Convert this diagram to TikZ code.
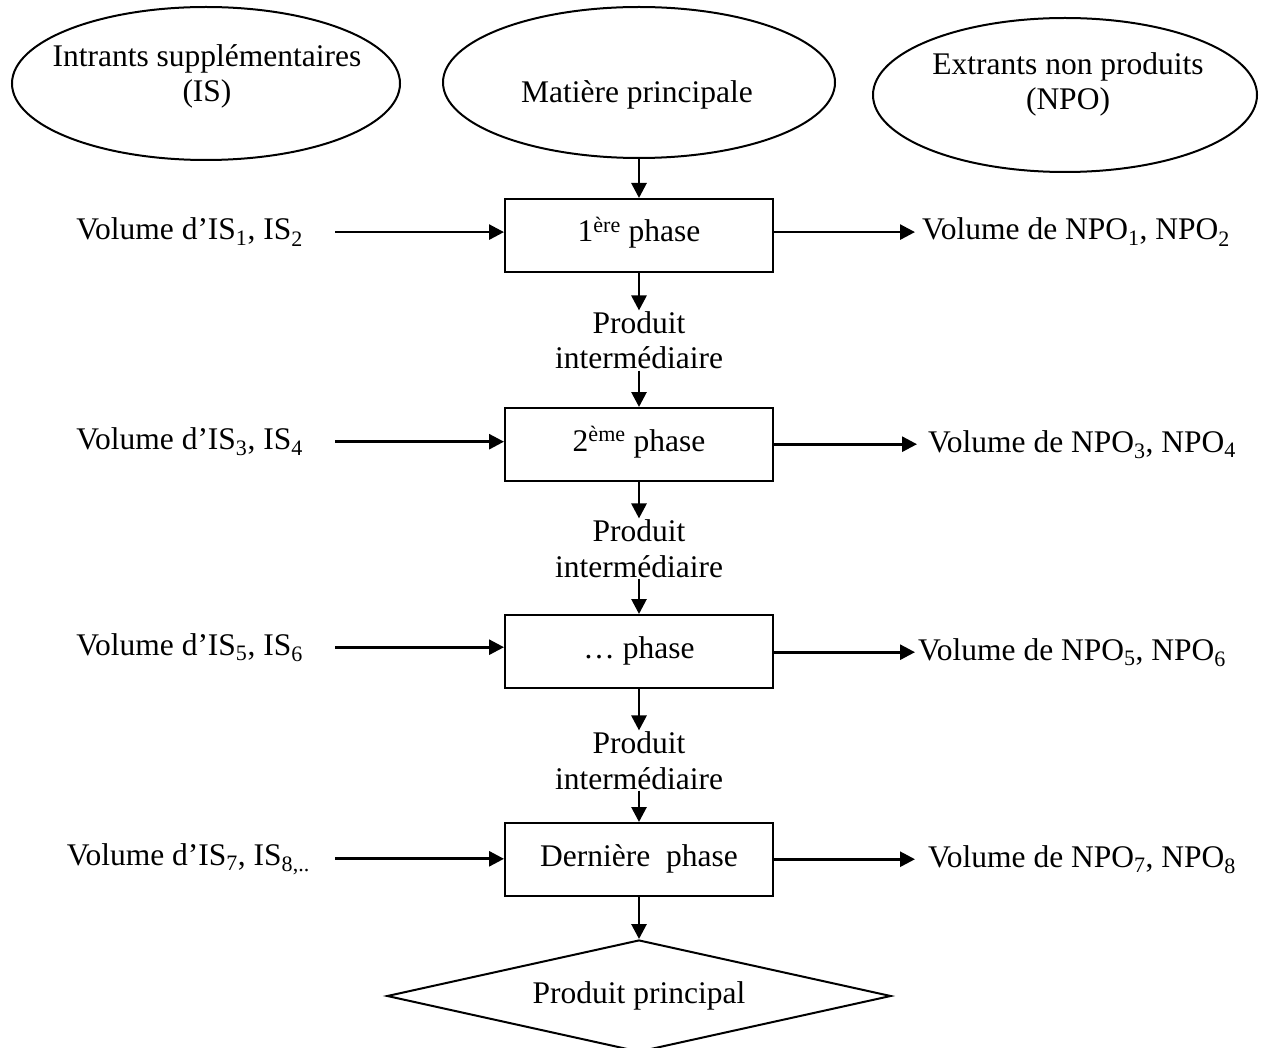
\documentclass[tikz,border=0pt]{standalone}
\usepackage{fontspec}
\setmainfont{Liberation Serif}
\usetikzlibrary{shapes.geometric,arrows.meta}
\begin{document}
\begin{tikzpicture}[x=1pt,y=-1pt,
  every node/.style={font=\fontsize{31.5}{35.5}\selectfont},
  oval/.style={ellipse,draw,line width=2pt,inner sep=0pt},
  stage/.style={rectangle,draw,line width=2pt,minimum width=268pt,
    minimum height=73pt,inner sep=0pt,text height=20pt,text depth=7pt},
  flowtext/.style={align=center,inner sep=1pt,anchor=base},
  lefttext/.style={anchor=base east,inner ysep=0pt},
  righttext/.style={anchor=base west,inner ysep=0pt},
  arr/.style={line width=2.8pt,-{Triangle[length=15pt,width=15pt]}}]
\useasboundingbox (0,0) rectangle (1266,1048);

% top ovals (multi-line labels are placed by the baseline of their last line)
\node[oval,minimum width=388pt,minimum height=153pt] (e1) at (206,83.5) {};
\node[oval,minimum width=392pt,minimum height=151pt] (e2) at (639,82.5) {};
\node[oval,minimum width=384pt,minimum height=154pt] (e3) at (1065,95) {};
\node[flowtext] (t1) at (207,102) {Intrants supplémentaires\\(IS)};
\node[flowtext] (t2) at (637,103) {Matière principale};
\node[flowtext] (t3) at (1068,110) {Extrants non produits\\(NPO)};

% processing stages
\node[stage] (b1) at (639,235.5) {1\textsuperscript{ère} phase};
\node[stage] (b2) at (639,444.5) {2\textsuperscript{ème} phase};
\node[stage] (b3) at (639,651.5) {… phase};
\node[stage] (b4) at (639,859.5) {Dernière~ phase};

% intermediate products
\node[flowtext] (p1) at (639,369) {Produit\\intermédiaire};
\node[flowtext] (p2) at (639,577) {Produit\\intermédiaire};
\node[flowtext] (p3) at (639,789) {Produit\\intermédiaire};

% final product
\node[diamond,draw,line width=2pt,aspect=4.5,inner sep=0pt,
  minimum width=504pt,minimum height=112pt] (goal) at (639,996) {Produit principal};

% supplementary inputs
\node[lefttext,inner xsep=32pt] (l1) at (335,240) {Volume d’IS\textsubscript{1}, IS\textsubscript{2}};
\node[lefttext,inner xsep=32pt] (l2) at (335,449.5) {Volume d’IS\textsubscript{3}, IS\textsubscript{4}};
\node[lefttext,inner xsep=32pt] (l3) at (335,655) {Volume d’IS\textsubscript{5}, IS\textsubscript{6}};
\node[lefttext,inner xsep=25pt] (l4) at (335,865) {Volume d’IS\textsubscript{7}, IS\textsubscript{8,..}};

% non-product outputs
\node[righttext,inner xsep=7pt] (r1) at (915,240) {Volume de NPO\textsubscript{1}, NPO\textsubscript{2}};
\node[righttext,inner xsep=11pt] (r2) at (917,452) {Volume de NPO\textsubscript{3}, NPO\textsubscript{4}};
\node[righttext,inner xsep=3pt] (r3) at (915,660) {Volume de NPO\textsubscript{5}, NPO\textsubscript{6}};
\node[righttext,inner xsep=13pt] (r4) at (915,867) {Volume de NPO\textsubscript{7}, NPO\textsubscript{8}};

% main flow
\draw[arr] (e2.south) -- (b1.north);
\draw[arr] (b1.south) -- (p1.north);
\draw[arr] (p1.south) -- (b2.north);
\draw[arr] (b2.south) -- (p2.north);
\draw[arr] (p2.south) -- (b3.north);
\draw[arr] (b3.south) -- (p3.north);
\draw[arr] (p3.south) -- (b4.north);
\draw[arr] (b4.south) -- (goal.north);

% side flows
\foreach \i in {1,2,3,4}{
  \draw[arr] (l\i.east) -- (l\i.east -| b\i.west);
  \draw[arr] (b\i.east |- r\i.west) -- (r\i.west);
}
\end{tikzpicture}
\end{document}
